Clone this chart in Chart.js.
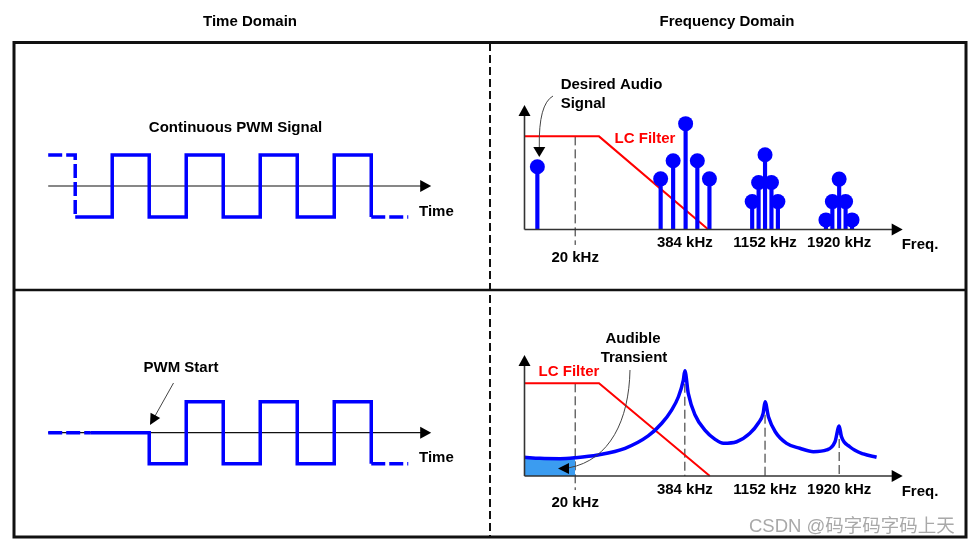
<!DOCTYPE html>
<html>
<head>
<meta charset="utf-8">
<script src="https://cdn.jsdelivr.net/npm/chart.js@4.4.1/dist/chart.umd.min.js"></script>
<style>
  body { margin: 0; background: #fff; width: 975px; height: 545px; overflow: hidden; position: relative; }
  canvas { position: absolute; }
</style>
</head>
<body>
<canvas id="frame" width="975" height="545" style="left:0;top:0"></canvas>
<canvas id="timeTop" width="490" height="290" style="left:0;top:0"></canvas>
<canvas id="freqTop" width="485" height="290" style="left:490px;top:0"></canvas>
<canvas id="timeBottom" width="490" height="255" style="left:0;top:290px"></canvas>
<canvas id="freqBottom" width="485" height="255" style="left:490px;top:290px"></canvas>
<script>
// time domain, in half PWM periods
const pwmTimes = [-0.73, 0, 1, 2, 3, 4, 5, 6, 7, 8, 9];
const pwmLevels = [1, -1, 1, -1, 1, -1, 1, -1, 1, -1, -1];
const startTimes = [-0.73, 0.42, 2, 3, 4, 5, 6, 7, 8, 9];
const startLevels = [0, 0, -1, 1, -1, 1, -1, 1, -1, -1];

// frequency domain, schematic axis 0..100
const freqLabels = ['20 kHz', '384 kHz', '1152 kHz', '1920 kHz'];
const freqPos = [13.4, 42.4, 63.6, 83.2];
const audioPos = [3.4];
const audioAmp = [50.4];
const spurPos = [36.0, 39.3, 42.6, 45.7, 48.9, 60.2, 61.9, 63.6, 65.3, 67.0, 79.7, 81.4, 83.2, 84.9, 86.6];
const spurAmp = [40.7, 55.2, 85.0, 55.2, 40.7, 22.4, 37.7, 60.0, 37.7, 22.4, 7.7, 22.4, 40.5, 22.4, 7.7];
const filterTopX = [0, 19.7, 48.6];
const filterTopY = [74.8, 74.8, 0];
const filterBotX = [0, 19.7, 49.0];
const filterBotY = [76.6, 76.6, 0];
const respX = [0, 4.1, 9.4, 13.4, 19.4, 26.6, 32.7, 36.3, 38.9, 40.7, 42.0, 42.4, 43.3, 45.1, 47.7, 50.4, 52.6, 56.1, 59.6, 61.8, 63.1, 63.6, 64.5, 66.3, 69.3, 72.8, 76.4, 79.9, 82.1, 83.2, 83.8, 86.0, 89.6, 93.1];
const respY = [15.5, 14.6, 14.3, 15.1, 17.4, 22.9, 33.1, 43.6, 54.5, 65.5, 79.3, 87.0, 68.3, 50.4, 38.0, 30.3, 27.0, 28.3, 35.3, 43.6, 51.8, 61.4, 49.0, 36.6, 27.0, 22.9, 20.1, 21.5, 28.3, 41.3, 32.5, 24.2, 18.2, 15.5];

const BLUE = '#0000ff';
const RED = '#ff0000';
const FONT = '"Liberation Sans", Arial, Helvetica, sans-serif';

const pts = (xs, ys) => xs.map((x, i) => ({ x: x, y: ys[i] }));

function label(ctx, s, x, y, align, color, font) {
    ctx.save();
    ctx.font = font || ('bold 15px ' + FONT);
    ctx.fillStyle = color || '#000';
    ctx.textAlign = align || 'center';
    ctx.textBaseline = 'middle';
    ctx.fillText(s, x, y);
    ctx.restore();
}

function head(ctx, x, y, ang, len, half) {
    ctx.save();
    ctx.translate(x, y);
    ctx.rotate(ang);
    ctx.beginPath();
    ctx.moveTo(0, 0);
    ctx.lineTo(-len, -half);
    ctx.lineTo(-len, half);
    ctx.closePath();
    ctx.fill();
    ctx.restore();
}

function drawAxes(chart, withY) {
    const ctx = chart.ctx, xs = chart.scales.x, ys = chart.scales.y;
    const y0 = ys.getPixelForValue(0);
    const x0 = xs.getPixelForValue(withY ? 0 : xs.min);
    const xEnd = xs.getPixelForValue(xs.max);
    ctx.save();
    ctx.strokeStyle = withY ? '#333' : '#111';
    ctx.fillStyle = '#000';
    ctx.lineWidth = withY ? 1.6 : 1.2;
    ctx.beginPath();
    ctx.moveTo(x0, y0);
    ctx.lineTo(xEnd - 10, y0);
    ctx.stroke();
    head(ctx, xEnd, y0, 0, 11, 6);
    if (withY) {
        const yEnd = ys.getPixelForValue(ys.max);
        ctx.beginPath();
        ctx.moveTo(x0, y0);
        ctx.lineTo(x0, yEnd + 10);
        ctx.stroke();
        head(ctx, x0, yEnd, -Math.PI / 2, 11, 6);
    }
    ctx.restore();
}

function freqTicks(chart, dy, dy20) {
    const xs = chart.scales.x, y0 = chart.scales.y.getPixelForValue(0);
    freqLabels.forEach((s, i) => {
        label(chart.ctx, s, xs.getPixelForValue(freqPos[i]), y0 + (i === 0 ? dy20 : dy));
    });
    label(chart.ctx, 'Freq.', 430, y0 + 15.5);
}

function baseOptions(xmin, xmax, ymin, ymax, pad) {
    return {
        responsive: false,
        animation: false,
        events: [],
        layout: { padding: pad },
        plugins: { legend: { display: false }, tooltip: { enabled: false } },
        scales: {
            x: { type: 'linear', display: false, min: xmin, max: xmax, offset: false },
            y: { type: 'linear', display: false, min: ymin, max: ymax }
        }
    };
}

function waveSet(xs, ys) {
    const n = xs.length;
    return {
        type: 'line',
        data: pts(xs, ys),
        stepped: true,
        borderColor: BLUE,
        borderWidth: 3.5,
        borderJoinStyle: 'miter',
        pointRadius: 0,
        clip: false,
        segment: {
            borderDash: c => (c.p0DataIndex === 0 || c.p1DataIndex === n - 1) ? [14, 4] : undefined
        }
    };
}

function markerSet(x, top, bottom) {
    return {
        type: 'line',
        data: [{ x: x, y: top }, { x: x, y: bottom }],
        borderColor: '#222',
        borderWidth: 1,
        borderDash: [9, 4],
        pointRadius: 0,
        clip: false
    };
}

// ---- frame ----
(function () {
    const ctx = document.getElementById('frame').getContext('2d');
    ctx.strokeStyle = '#111';
    ctx.lineWidth = 3;
    ctx.strokeRect(14, 42.5, 952, 494.5);
    ctx.lineWidth = 2.5;
    ctx.beginPath();
    ctx.moveTo(14, 290);
    ctx.lineTo(966, 290);
    ctx.stroke();
    ctx.lineWidth = 2;
    ctx.setLineDash([8, 4]);
    ctx.beginPath();
    ctx.moveTo(490, 43);
    ctx.lineTo(490, 537);
    ctx.stroke();
})();

// ---- time domain, continuous ----
new Chart(document.getElementById('timeTop'), {
    type: 'scatter',
    data: { datasets: [waveSet(pwmTimes, pwmLevels)] },
    options: baseOptions(-0.73, 9.62, -2, 2, { left: 48.2, right: 58.8, top: 124, bottom: 42 }),
    plugins: [{
        id: 'timeTopDeco',
        beforeDatasetsDraw(chart) { drawAxes(chart, false); },
        afterDatasetsDraw(chart) {
            const ctx = chart.ctx;
            label(ctx, 'Time Domain', 250, 22);
            label(ctx, 'Continuous PWM Signal', 235.5, 128);
            label(ctx, 'Time', 419, 212, 'left');
        }
    }]
});

// ---- time domain, PWM start ----
new Chart(document.getElementById('timeBottom'), {
    type: 'scatter',
    data: { datasets: [waveSet(startTimes, startLevels)] },
    options: baseOptions(-0.73, 9.62, -2, 2, { left: 48.2, right: 58.8, top: 80.7, bottom: 50.3 }),
    plugins: [{
        id: 'timeBottomDeco',
        beforeDatasetsDraw(chart) { drawAxes(chart, false); },
        afterDatasetsDraw(chart) {
            const ctx = chart.ctx;
            label(ctx, 'PWM Start', 181, 78);
            ctx.save();
            ctx.strokeStyle = '#444';
            ctx.fillStyle = '#000';
            ctx.lineWidth = 1;
            ctx.beginPath();
            ctx.moveTo(173.5, 93);
            ctx.lineTo(155, 126);
            ctx.stroke();
            head(ctx, 150, 135, Math.atan2(135 - 93, 150 - 173.5), 11, 5.5);
            ctx.restore();
            label(ctx, 'Time', 419, 168, 'left');
        }
    }]
});

// ---- frequency domain, spectrum ----
new Chart(document.getElementById('freqTop'), {
    type: 'scatter',
    data: {
        datasets: [
            {
                type: 'scatter',
                data: pts(audioPos.concat(spurPos), audioAmp.concat(spurAmp)),
                pointRadius: 7.5,
                pointBackgroundColor: BLUE,
                pointBorderWidth: 0,
                clip: false
            },
            {
                type: 'bar',
                data: pts(audioPos.concat(spurPos), audioAmp.concat(spurAmp)),
                backgroundColor: BLUE,
                barThickness: 3.5,
                borderWidth: 0
            },
            {
                type: 'line',
                data: pts(filterTopX, filterTopY),
                borderColor: RED,
                borderWidth: 2,
                pointRadius: 0,
                clip: false
            },
            markerSet(freqPos[0], filterTopY[0], -12.4)
        ]
    },
    options: baseOptions(0, 100, 0, 100, { left: 34.5, right: 72.3, top: 105, bottom: 60.5 }),
    plugins: [{
        id: 'freqTopDeco',
        afterDatasetsDraw(chart) {
            const ctx = chart.ctx;
            drawAxes(chart, true);
            label(ctx, 'Frequency Domain', 237, 22);
            label(ctx, 'Desired Audio', 70.7, 85, 'left');
            label(ctx, 'Signal', 70.7, 104, 'left');
            label(ctx, 'LC Filter', 155, 139, 'center', RED);
            ctx.save();
            ctx.strokeStyle = '#444';
            ctx.fillStyle = '#000';
            ctx.lineWidth = 1;
            ctx.beginPath();
            ctx.moveTo(63, 96);
            ctx.quadraticCurveTo(48.5, 104, 49.3, 147);
            ctx.stroke();
            head(ctx, 49.3, 157, Math.PI / 2, 10, 6);
            ctx.restore();
            freqTicks(chart, 13.5, 28.5);
        }
    }]
});

// ---- frequency domain, start-up transient ----
const bandX = respX.filter(x => x <= freqPos[0]);
const bandY = respY.slice(0, bandX.length);
new Chart(document.getElementById('freqBottom'), {
    type: 'scatter',
    data: {
        datasets: [
            {
                type: 'line',
                data: pts(respX, respY),
                borderColor: BLUE,
                borderWidth: 3.5,
                cubicInterpolationMode: 'monotone',
                pointRadius: 0,
                clip: false
            },
            {
                type: 'line',
                data: pts(bandX, bandY),
                borderWidth: 0,
                cubicInterpolationMode: 'monotone',
                backgroundColor: '#3b9cf0',
                fill: 'origin',
                pointRadius: 0
            },
            {
                type: 'line',
                data: pts(filterBotX, filterBotY),
                borderColor: RED,
                borderWidth: 2,
                pointRadius: 0,
                clip: false
            },
            markerSet(freqPos[0], filterBotY[0], -11.6),
            ...freqPos.slice(1).map(f => markerSet(f, respY[respX.indexOf(f)], 0))
        ]
    },
    options: baseOptions(0, 100, 0, 100, { left: 34.5, right: 72.3, top: 65, bottom: 69 }),
    plugins: [{
        id: 'freqBottomDeco',
        afterDatasetsDraw(chart) {
            const ctx = chart.ctx;
            drawAxes(chart, true);
            label(ctx, 'Audible', 143, 49);
            label(ctx, 'Transient', 144, 68);
            label(ctx, 'LC Filter', 79, 81.7, 'center', RED);
            ctx.save();
            ctx.strokeStyle = '#444';
            ctx.fillStyle = '#000';
            ctx.lineWidth = 1;
            ctx.beginPath();
            ctx.moveTo(140, 80);
            ctx.bezierCurveTo(139, 130, 120, 170, 79, 177.8);
            ctx.stroke();
            head(ctx, 68, 178.5, Math.PI, 11, 5.5);
            ctx.restore();
            freqTicks(chart, 14, 27.3);
            label(ctx, 'CSDN @码字码字码上天', 259, 236.7, 'left', '#a9a9a9',
                '18.5px "Liberation Sans", "Noto Sans CJK SC", sans-serif');
        }
    }]
});
</script>
</body>
</html>
